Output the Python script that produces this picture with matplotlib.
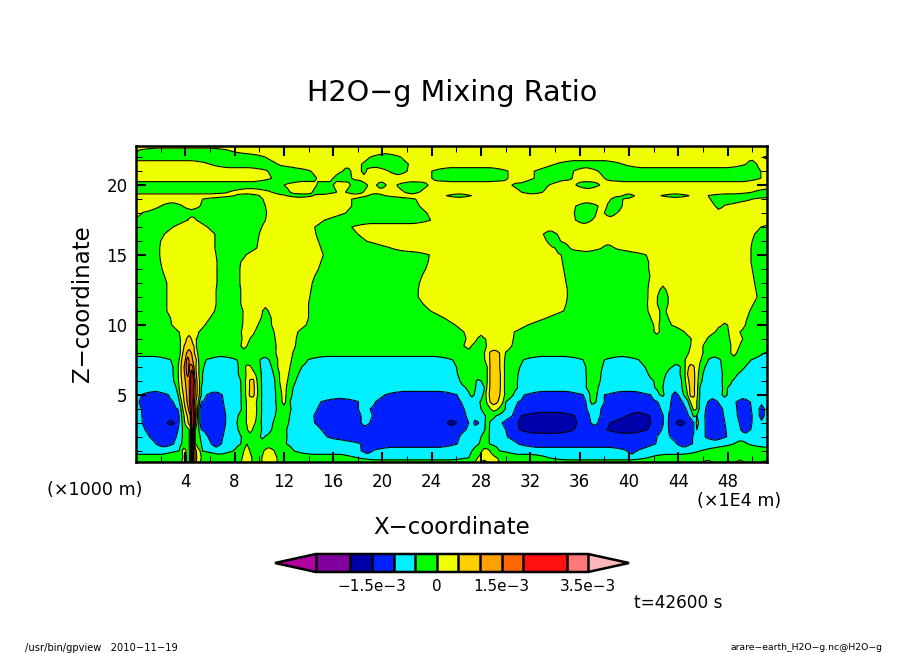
import numpy as np
import matplotlib
matplotlib.use("Agg")
import matplotlib.pyplot as plt
from matplotlib.colors import ListedColormap
from matplotlib.ticker import MultipleLocator

# contour class bands (mixing ratio units)
levels = [-2.8e-3, -2e-3, -1.5e-3, -1e-3, -5e-4, 0, 5e-4, 1e-3, 1.5e-3, 2e-3, 3e-3, 3.5e-3]
band_colors = ["#8000a0", "#0000aa", "#0020ff", "#00f0ff", "#00ff00", "#f0ff00",
               "#ffd000", "#ffa000", "#ff6800", "#ff1010", "#ff7878"]
under_color = "#b000a0"
over_color = "#ffb8b8"
band_values = {"d": -1.75e-3, "b": -1.25e-3, "c": -7.5e-4, "g": -2.5e-4, "y": 2.5e-4,
               "o": 7.5e-4, "a": 1.25e-3, "e": 1.75e-3, "r": 2.5e-3}
colorbar_ticks = [-1.5e-3, 0, 1.5e-3, 3.5e-3]
colorbar_labels = ["\u22121.5e\u22123", "0", "1.5e\u22123", "3.5e\u22123"]
x_ticks = [4, 8, 12, 16, 20, 24, 28, 32, 36, 40, 44, 48]
z_ticks = [5, 10, 15, 20]

# height of each row, and for that row which band starts at which x
z_rows = [22.8, 22.5, 22, 21.5, 21, 20.5, 20, 19.5, 19.25, 19, 18.5, 18, 17.5, 17, 16.5, 16,
          15.5, 15, 14.5, 14, 13.5, 13, 12.5, 12, 11.5, 11, 10.5, 10, 9.5, 9, 8.5, 8, 7.5,
          7, 6.5, 6, 5.5, 5, 4.5, 4, 3.5, 3, 2.5, 2, 1.5, 1, 0.5, 0.2]
field_runs = [
    "y0",
    "y0 g0.2 y7.5",
    "g0 y10.5 g19 y21.5 g50.9",
    "y0 g6 y11.5 g18.3 y22.1 g34 y39.5 g49.5 y50.3",
    "y0 g10.7 y14.2 g16.8 y17.4 g18.3 y18.6 g20.5 y22 g24 y30.2 g32.3 y35.5 g37.5 y50.7",
    "y0 g11 y14.7 g16 y17.5 g24 y30.2 g32.3 y35.4 g38 y50.7",
    "g0 y12 g14.7 y16 g17.4 y18.8 g19.5 y20.3 g21.1 y23.7 g30.5 y33.5 g35.7 y37.6",
    "g0 y7.5 g11 y12.5 g14.3 y16.3 g17 y18.4 g21.8 y23 g31.3 y33 g50",
    "y0 g8 y10 g12.2 y14.4 g18.9 y20.2 g25.2 y27.2 g39.5 y40.4 g42.6 y44.9 g46.4",
    "y0 g5.4 y10.3 g17.5 y22.7 g38.6 y39.5 g46.6 y50",
    "y0 g2 y3.8 g5.2 y10.5 g17.5 y23 g35.7 y37.5 g38.2 y39.4 g47 y47.6",
    "y0 g0.4 y10.6 g17 y23.6 g35.6 y37.4 g38 y39",
    "g0 y4.2 g4.9 y10.5 g15.3 y23.9 g35.7 y37",
    "g0 y3 g5.8 y10.2 g14.5 y17.5 g50.7",
    "g0 y2.3 g6.4 y10 g14.6 y18 g33.1 y34.1 g50.2",
    "g0 y2 g6.4 y9.9 g14.8 y18.7 g33.4 y34.4 g50",
    "g0 y1.9 g6.4 y9.8 g15 y20.7 g34 y35.2 g37.8 y38.8 g49.9",
    "g0 y1.9 g6.5 y8.9 g15.2 y23.8 g34.5 y41.4 g49.9",
    "g0 y2 g6.6 y8.5 g15 y23.7 g34.6 y41.6 g49.9",
    "g0 y2.1 g6.6 y8.4 g14.8 y23.5 g34.7 y41.6 g50",
    "g0 y2.3 g6.6 y8.4 g14.5 y23.2 g34.8 y41.7 g50.1",
    "g0 y2.5 g6.6 y8.4 g14.3 y23 g34.9 y41.6 g50.2",
    "g0 y2.5 g6.5 y8.5 g14.2 y22.9 g35 y41.6 g42.5 y43 g50.3",
    "g0 y2.5 g6.5 y8.5 g14.1 y22.9 g35 y41.6 g42.3 y43.1 g50.4",
    "g0 y2.5 g6.5 y8.5 g14 y23.3 g34.9 y41.5 g42.3 y43.1 g50.1",
    "g0 y2.5 g6.4 y8.7 g10.3 y10.7 g14 y23.9 g34.7 y41.6 g42.5 y43 g49.8",
    "g0 y2.8 g6 y8.7 g10.2 y10.9 g14 y25 g33.3 y41.8 g42.5 y43.1 g49.6",
    "g0 y2.9 g5.6 y8.7 g9.9 y11 g13.8 y25.9 g31.8 y42 g42.4 y43.4 g47.7 y48 g49.4",
    "g0 y3.5 g5.1 y8.6 g9.6 y11.2 g13.1 y26.6 g30.7 y42.2 g42.4 y44.5 g47 y48.1 g49",
    "g0 y3.6 o4.1 y4.5 g4.9 y8.7 g9.2 y11.3 g13 y26.8 g27.7 y28.3 g30.6 y45.1 g46.3 y48.2 g49.2",
    "g0 y3.6 o3.9 y4.7 g4.9 y8.6 g9 y11.4 g12.9 y26.7 g27.2 y28.4 g30.5 y45 g46 y48.3 g48.9",
    "g0 y3.6 o3.8 a4.1 o4.5 y4.75 g4.95 y11.4 g12.7 y28.4 o28.6 y29.5 g29.9 y44.9 g46 y48.3 g48.7 c51",
    "c0 g2.9 y3.5 o3.7 a4 e4.1 a4.3 o4.6 y4.9 g5.05 c5.6 g8.2 c10.1 g10.8 y11.5 g12.6 c13.9 g25.7 y28.45 o28.6 y29.55 g29.8 c31.4 g36.3 c38 g40.8 y44.6 g45.9 c46.4 g47.4 c49.9",
    "c0 g3 y3.45 o3.65 a3.9 e4.05 a4.3 e4.35 a4.6 o4.7 y4.85 g5.1 c5.5 g8.4 y8.9 g9.3 c10.1 g11 y11.5 g12.5 c13.4 g26 y28.5 o28.65 y29.55 g29.8 c31.1 g36.5 c37.8 g41.3 c43.5 g44.2 y44.6 o44.8 y45.3 g45.7 c46.1 g47.5 c49.4",
    "c0 g3.05 y3.45 o3.65 a3.95 e4.1 a4.25 e4.4 r4.45 e4.6 a4.65 o4.75 y4.9 g5.1 c5.4 g8.4 y8.9 g9.7 c10.1 g11.2 y11.6 g12.4 c13.1 g26.1 y28.5 o28.7 a29 o29.2 y29.6 g29.8 c31 g36.55 c37.7 g41.6 c43 g44.2 y44.6 o44.75 y45.4 g45.6 c46 g47.6 c48.8",
    "c0 g3.2 y3.45 o3.7 a4 e4.35 r4.45 e4.65 o4.75 y4.95 g5.15 c5.4 g8.5 y8.9 o9.2 y9.6 g9.8 c10.1 g11.3 y11.6 g12.3 c12.9 g26.3 c27.7 g28 y28.5 o28.7 a29 o29.2 y29.6 g29.8 c30.9 g36.6 c37.6 g42 c42.8 g44.3 y44.6 o44.8 y45.4 g45.6 c45.8 g47.6 c48.3",
    "c0 g3.3 y3.5 o3.75 a4.05 e4.35 r4.45 e4.65 a4.7 o4.8 y4.95 g5.15 c5.3 g8.55 y8.9 o9.2 y9.65 g9.85 c10.1 g11.35 y11.75 g12.2 c12.7 g26.8 c27.55 g28.3 y28.45 o28.7 a29 o29.2 y29.6 g29.8 c30.9 g36.6 c37.5 g42.2 c42.75 g44.4 y44.7 o44.85 y45.35 g45.6 c45.7 g47.7 c48",
    "c0 b0.4 c2.7 g3.4 y3.55 o3.85 a4.1 e4.35 r4.45 e4.65 a4.7 o4.8 y4.95 g5.15 c5.3 b5.7 c7 g8.6 y8.9 o9.15 y9.65 g9.85 c10.1 g11.4 y11.85 g12.15 c12.55 b20.2 c26.1 g27.2 c27.4 y28.4 o28.55 y29.55 g29.85 c30.6 b31.5 c36.4 g36.8 c37.4 b38 c41.8 g42.5 c42.8 b43.5 c44 g44.45 y44.75 o44.85 y45.4 g45.55 c45.7 g47.7 c47.85",
    "c0 b0.2 c3.05 g3.55 y3.7 o3.9 a4.15 e4.35 r4.45 e4.6 o4.7 y4.85 g5.05 c5.15 b5.3 c7.1 g8.6 y8.9 g9.8 c10.1 g11.4 y11.95 g12.05 c12.5 b15 c18.1 b19.4 c26.4 y28.4 o28.7 y29.4 g29.8 c30 b31 c36.55 g36.85 c37.3 b38 c42.4 b43.4 c44.4 g44.9 y44.95 g45.5 c45.6 b46.4 c47.2 b48.7 c49.8",
    "c0 b0.3 c3.4 g3.65 y3.8 o4 a4.25 r4.45 a4.65 y4.85 g5 c5.1 b5.2 c7.2 g8.65 y8.9 g9.85 c10.1 g11.4 c12.55 b14.7 c18.1 b19 c26.65 y28.45 c29.7 b30.75 c36.65 b37.7 c42.65 b43.3 c44.7 y45.1 g45.5 c45.6 b46.2 c47.6 b48.75 c49.95 b50.6 c50.9",
    "c0 b0.4 c3.5 g3.7 y3.9 o4.15 a4.4 r4.5 a4.7 y4.85 g5 c5.1 b5.2 c7.3 g8.3 y8.95 g9.8 c10.1 g11.3 c12.45 b14.4 c18.3 b19.1 c26.8 g28.4 c29.2 b30.55 d31.25 b35.65 c36.8 b37.6 d39.8 b41.7 c42.8 b43.15 c44.95 g45.2 c45.5 b46.1 c47.7 b48.8 c50 b50.65 c50.85",
    "c0 b0.5 d2.55 b3.15 c3.5 g3.75 y3.95 o4.25 a4.45 r4.5 a4.7 y4.8 g4.95 c5.1 b5.2 c7.3 g8.2 y8.95 g9.7 c10.1 g11.1 c12.35 b14.5 c18.3 b18.9 d25.25 b26 c27 b27.4 c27.8 g28.4 c28.6 b29.7 d31 b35.8 c36.95 b37.45 d38.4 b41.8 c42.85 b43.15 d43.8 b44.55 c45.3 g45.45 c45.7 b46.1 c47.8 b48.95 c49.95",
    "c0 b0.7 c3.45 g3.75 y4.35 r4.5 y4.7 g4.8 c5.1 b5.3 c7.2 g8.3 y9.1 g9.4 c10.2 g11 c12.2 b15.05 c26.8 g28.4 c28.55 b30 d31.05 b35.55 d38.2 b41.5 c42.7 b43.15 c45.4 g45.5 c45.7 b46.1 c47.9 b49.1 c49.8",
    "c0 b1.05 c3.3 g3.75 y4.35 r4.5 y4.7 g4.8 c5.2 b5.8 c7.05 g8.55 c10.2 g10.4 c12.25 b15.5 c26.25 g28 c28.6 b30.1 c42.3 b43.3 c45.2 b46.15 c47.9",
    "c0 b1.6 c3.1 g3.7 y4.35 r4.5 y4.7 g4.8 c5.3 b6.1 c6.9 g8.55 y8.8 g9 c12.2 b18.2 c26.1 g27.9 c28.6 b31 c42.2 b43.9 c45.1 g48.5 c49.6",
    "c0 g3.5 y3.75 g4.05 y4.35 r4.5 y4.7 g5.2 c5.35 g7.95 y8.75 g9.2 y10.4 g11.2 c12.8 b18.3 c19.2 g27.3 y28.1 g28.7 c29.5 b39.9 c40.6 g45.8",
    "g0 y3.8 g4.1 y4.35 r4.5 y4.7 g5.3 y8.7 g9.4 y10.2 g11.4 c18 g27 y27.7 g29.3 c33.5 g41.5",
    "g0 y3.7 g4.1 y4.35 r4.5 y4.7 g5.2 y8.6 g9.4 y10.2 g11.4 y27.5 o28 y28.5 g29.4 y46.1 g46.7 y48.7 g49.3 y50.7",
]

x_nodes = np.concatenate([np.arange(0, 3.4, 0.25), np.arange(3.4, 5.4, 0.1),
                          np.arange(5.5, 51.01, 0.25), [51.2]])
slope_span = 1.5


def decode(run):
    """Turn one row of band starts into node values that meet each band edge at its level."""
    names = [t[0] for t in run.split()]
    starts = [float(t[1:]) for t in run.split()]
    values = np.zeros_like(x_nodes)
    for i, name in enumerate(names):
        lo = starts[i]
        hi = starts[i + 1] if i + 1 < len(names) else x_nodes[-1] + 1e3
        mid = band_values[name]
        inside = (x_nodes >= lo - 1e-9) & (x_nodes < hi - 1e-9) if i else (x_nodes < hi - 1e-9)
        span = min(slope_span, (hi - lo) / 2)
        out = np.full(x_nodes.shape, mid)
        if i > 0:
            edge = (band_values[names[i - 1]] + mid) / 2
            t = np.clip((x_nodes - lo) / span, 0, 1)
            out = np.where(x_nodes - lo < hi - x_nodes, edge + (mid - edge) * t, out)
        if i + 1 < len(names):
            edge = (band_values[names[i + 1]] + mid) / 2
            t = np.clip((hi - x_nodes) / span, 0, 1)
            out = np.where(x_nodes - lo >= hi - x_nodes, edge + (mid - edge) * t, out)
        values[inside] = out[inside]
    return values


field = np.array([decode(r) for r in field_runs])[::-1]
z_nodes = np.array(z_rows)[::-1]

W, H = 904, 654
fig = plt.figure(figsize=(W / 100, H / 100), dpi=100)
plt.rcParams["font.family"] = "DejaVu Sans"


def px(x, y):
    return x / W, 1 - y / H


ax = fig.add_axes([136 / W, 1 - 462 / H, (767 - 136) / W, (462 - 146) / H])
cmap = ListedColormap(band_colors)
cmap.set_under(under_color)
cmap.set_over(over_color)
cf = ax.contourf(x_nodes, z_nodes, field, levels=levels, cmap=cmap, extend="both",
                 norm=matplotlib.colors.BoundaryNorm(levels, len(band_colors)))
ax.contour(x_nodes, z_nodes, field, levels=levels, colors="black", linewidths=0.8,
           linestyles="solid")
ax.set_xlim(0, 51.2)
ax.set_ylim(0.2, 22.8)
ax.set_xticks(x_ticks)
ax.set_yticks(z_ticks)
ax.xaxis.set_minor_locator(MultipleLocator(2))
ax.yaxis.set_minor_locator(MultipleLocator(1))
ax.tick_params(which="major", direction="in", length=7.5, width=1.5, top=True, right=True,
               labelsize=12, pad=8)
ax.tick_params(which="minor", direction="in", length=4.3, width=0.75, top=True, right=True)
ax.tick_params(axis="y", which="major", pad=6)
for s in ax.spines.values():
    s.set_linewidth(1.8)

fig.text(*px(452, 93), "H2O\u2212g Mixing Ratio", fontsize=20.6, ha="center", va="center")
fig.text(*px(452, 528), "X\u2212coordinate", fontsize=16.5, ha="center", va="center")
fig.text(*px(83, 304), "Z\u2212coordinate", fontsize=16.5, ha="center", va="center", rotation=90)
fig.text(*px(95, 490), "(\u00d71000 m)", fontsize=12.6, ha="center", va="center")
fig.text(*px(739, 501), "(\u00d71E4 m)", fontsize=12.6, ha="center", va="center")
fig.text(*px(678, 603), "t=42600 s", fontsize=12.2, ha="center", va="center")
fig.text(*px(25, 648), "/usr/bin/gpview   2010\u221211\u221219", fontsize=7.1, ha="left", va="center")
fig.text(*px(883, 648), "arare\u2212earth_H2O\u2212g.nc@H2O\u2212g", fontsize=6.7, ha="right", va="center")

cax = fig.add_axes([275 / W, 1 - 572 / H, (629 - 275) / W, 18 / H])
cb = fig.colorbar(cf, cax=cax, orientation="horizontal", extend="both", extendfrac=0.15,
                  spacing="proportional", ticks=colorbar_ticks, drawedges=True)
cb.set_ticklabels(colorbar_labels)
cb.ax.tick_params(length=0, labelsize=11, pad=5)
cb.ax.minorticks_off()
cb.outline.set_linewidth(1.8)
cb.dividers.set_linewidth(1.8)

fig.savefig("out.png", dpi=100)
